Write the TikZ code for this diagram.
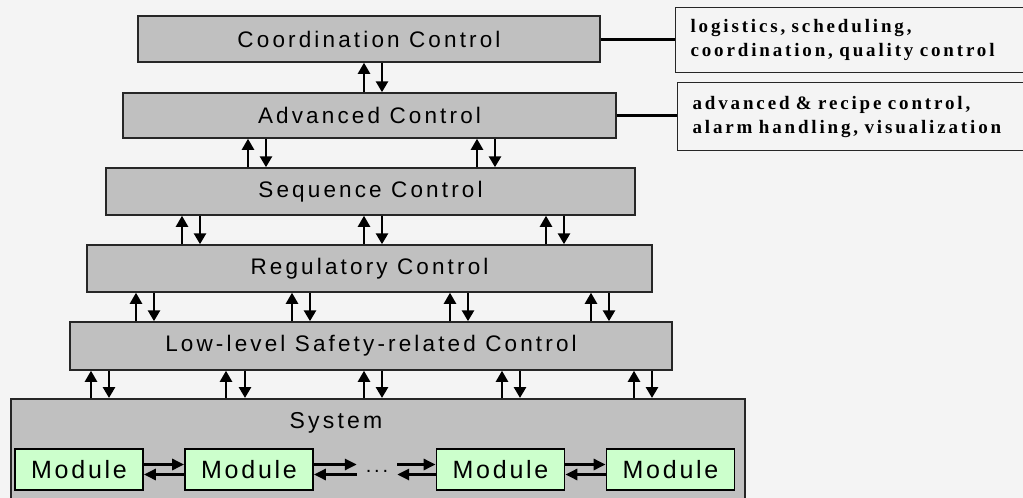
\documentclass[tikz,border=0pt]{standalone}
\usepackage{fontspec}
\usetikzlibrary{arrows.meta}
\newfontfamily\boxfont[LetterSpace=14]{Liberation Sans}
\newfontfamily\sysfont[LetterSpace=14]{Liberation Sans}
\newfontfamily\modfont[LetterSpace=11]{Liberation Sans}
\newfontfamily\notefont[LetterSpace=15]{Liberation Serif}
\definecolor{bgcol}{HTML}{F4F4F4}
\definecolor{layer}{HTML}{C0C0C0}
\definecolor{modfill}{HTML}{CCFFCC}
\begin{document}
\begin{tikzpicture}[x=1pt,y=-1pt,
  layerbox/.style={draw=black!85, line width=1.5pt, fill=layer, inner sep=0pt,
    font=\boxfont\fontsize{22.5}{26}\selectfont},
  modbox/.style={draw=black, line width=1.8pt, fill=modfill, inner sep=0pt,
    minimum width=128, minimum height=41, font=\modfont\fontsize{25}{29}\selectfont},
  notebox/.style={draw=black!85, line width=1.2pt, fill=bgcol, anchor=north west,
    inner xsep=15pt, inner ysep=0pt, text width=330pt, align=left,
    font=\notefont\bfseries\fontsize{19}{24}\selectfont},
  uparr/.style={line width=2.2pt, -{Triangle[length=11pt,width=12pt]}},
  dnarr/.style={line width=2.8pt, -{Triangle[length=11pt,width=12pt]}},
  harr/.style={line width=3pt, -{Triangle[length=12pt,width=11pt]}},
  link/.style={line width=3pt}]

% page area and background
\fill[bgcol] (0,0) rectangle (1023,498);
\useasboundingbox (0,0) rectangle (1023,498);
\begin{scope}
\clip (0,0) rectangle (1023,498);

% control layers
\node[layerbox, minimum width=462, minimum height=46] (coord) at (369,39) {Coordination Control};
\node[layerbox, minimum width=493, minimum height=45] (adv) at (369.5,115.5) {Advanced Control};
\node[layerbox, minimum width=529, minimum height=47] (seq) at (370.5,191.5) {Sequence Control};
\node[layerbox, minimum width=565, minimum height=47] (reg) at (369.5,268.5) {Regulatory Control};
\node[layerbox, minimum width=602, minimum height=48] (low) at (371,346) {Low-level Safety-related Control};

% system with its modules
\node[layerbox, minimum width=734, minimum height=120, anchor=north west] (sys) at (10,398) {};
\node[font=\sysfont\fontsize{23}{27}\selectfont, anchor=base] (systxt) at (336,428) {System};
\node[modbox] (m1) at (79,469.5) {Module};
\node[modbox] (m2) at (249,469.5) {Module};
\node[modbox] (m3) at (500.5,469.5) {Module};
\node[modbox] (m4) at (670.5,469.5) {Module};
\node[inner sep=0pt, minimum width=40, font=\sysfont\fontsize{20}{24}\selectfont, anchor=base] (dots) at (377,472) {...};

% links between neighbouring modules
\draw[harr] ([yshift=5pt]m1.east) -- ([yshift=5pt]m2.west);
\draw[harr] ([yshift=-5pt]m2.west) -- ([yshift=-5pt]m1.east);
\draw[harr] ([yshift=5pt]m2.east) -- ([yshift=5pt]m2.east -| dots.west);
\draw[harr] ([yshift=-5pt]m2.east -| dots.west) -- ([yshift=-5pt]m2.east);
\draw[harr] ([yshift=5pt]m3.west -| dots.east) -- ([yshift=5pt]m3.west);
\draw[harr] ([yshift=-5pt]m3.west) -- ([yshift=-5pt]m3.west -| dots.east);
\draw[harr] ([yshift=5pt]m3.east) -- ([yshift=5pt]m4.west);
\draw[harr] ([yshift=-5pt]m4.west) -- ([yshift=-5pt]m3.east);

% information flow between layers
\foreach \u/\d in {364/382}{
  \draw[uparr] (adv.north -| \u,0) -- (coord.south -| \u,0);
  \draw[dnarr] (coord.south -| \d,0) -- (adv.north -| \d,0);}
\foreach \u/\d in {248/266, 477/495}{
  \draw[uparr] (seq.north -| \u,0) -- (adv.south -| \u,0);
  \draw[dnarr] (adv.south -| \d,0) -- (seq.north -| \d,0);}
\foreach \u/\d in {182/200, 364/382, 546/564}{
  \draw[uparr] (reg.north -| \u,0) -- (seq.south -| \u,0);
  \draw[dnarr] (seq.south -| \d,0) -- (reg.north -| \d,0);}
\foreach \u/\d in {136/154, 292/310, 450/468, 591/609}{
  \draw[uparr] (low.north -| \u,0) -- (reg.south -| \u,0);
  \draw[dnarr] (reg.south -| \d,0) -- (low.north -| \d,0);}
\foreach \u/\d in {91/109, 226/245, 364/382, 502/520, 634/652}{
  \draw[uparr] (sys.north -| \u,0) -- (low.south -| \u,0);
  \draw[dnarr] (low.south -| \d,0) -- (sys.north -| \d,0);}

% task notes
\node[notebox, minimum height=65] (note1) at (675,7) {logistics, scheduling,\\coordination, quality control};
\node[notebox, minimum height=68] (note2) at (677,82) {advanced \& recipe control,\\alarm handling, visualization};
\draw[link] (coord.east) -- (coord.east -| note1.west);
\draw[link] (adv.east) -- (adv.east -| note2.west);
\end{scope}
\end{tikzpicture}
\end{document}
